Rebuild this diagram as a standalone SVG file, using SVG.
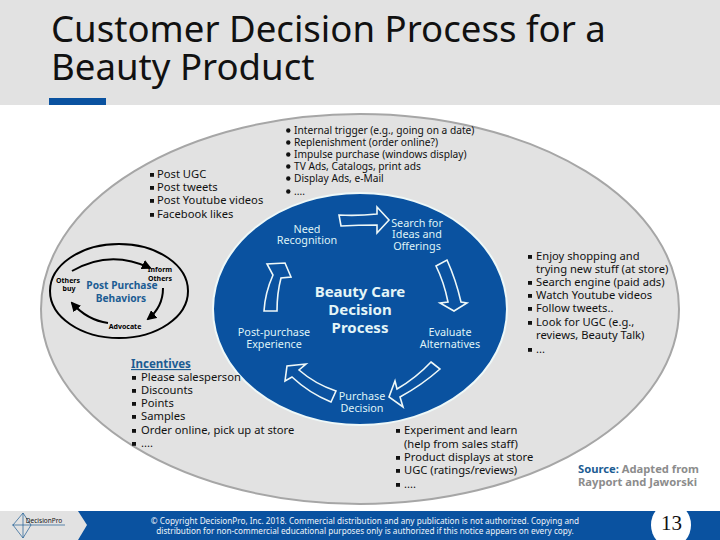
<svg xmlns="http://www.w3.org/2000/svg" width="720" height="540" viewBox="0 0 720 540">
<style>
text{font-family:"Noto Sans","DejaVu Sans",sans-serif}
.t{font-size:36.6px;fill:#111}
.b{font-size:11.2px;fill:#111}
.n{font-size:10.2px;fill:#111}
.w{font-size:10.8px;fill:#dff3f7;text-anchor:middle}
.c{font-size:15px;font-weight:700;fill:#e4f5f7;text-anchor:middle}
.a{fill:none;stroke:#eef8f8;stroke-width:1.6}
.k{fill:none;stroke:#000;stroke-width:2}
.s{font-size:7px;font-weight:700;fill:#000;text-anchor:middle}
.p{font-size:10.2px;font-weight:700;fill:#1c5c93;text-anchor:middle}
.f{font-size:8.2px;fill:#eef4fa;text-anchor:middle}
.num{font-family:"Liberation Serif",serif;font-size:21px;fill:#111}
</style>
<defs>
<marker id="ah" viewBox="0 0 10 10" refX="8" refY="5" markerWidth="5" markerHeight="5" orient="auto"><path d="M0 0L10 5L0 10z" fill="#000"/></marker>
<g id="sq"><rect x="0" y="-5" width="4" height="3.8" fill="#111"/></g>
<g id="dot"><circle cx="2.3" cy="-3.5" r="2.2" fill="#111"/></g>
<clipPath id="fc"><rect y="511" width="720" height="29"/></clipPath>
</defs>
<rect width="720" height="540" fill="#fff"/>
<rect id="header" width="720" height="105" fill="#e2e2e2"/>
<rect x="49" y="98" width="57" height="7" fill="#0a52a0"/>
<text class="t" x="51" y="42">Customer Decision Process for a</text>
<text class="t" x="51" y="80">Beauty Product</text>

<g id="outer"><ellipse cx="360" cy="309" rx="319" ry="195" fill="#e2e2e2" stroke="#a6a6a6" stroke-width="2"/></g>
<g id="inner"><ellipse cx="360" cy="309" rx="147" ry="116" fill="#0a52a0" stroke="#eef8f8" stroke-width="2"/></g>

<g id="need"><text class="w" x="307" y="233">Need</text><text class="w" x="307" y="244">Recognition</text></g>
<g id="search"><text class="w" x="417" y="227">Search for</text><text class="w" x="417" y="238">Ideas and</text><text class="w" x="417" y="250">Offerings</text></g>
<g id="evaluate"><text class="w" x="450" y="336">Evaluate</text><text class="w" x="450" y="348">Alternatives</text></g>
<g id="purchase"><text class="w" x="362" y="400">Purchase</text><text class="w" x="362" y="412">Decision</text></g>
<g id="postpurchase"><text class="w" x="274" y="336">Post-purchase</text><text class="w" x="274" y="348">Experience</text></g>
<g id="center"><text class="c" x="360" y="297">Beauty Care</text><text class="c" x="360" y="315">Decision</text><text class="c" x="360" y="333">Process</text></g>

<g id="connectors">
<path class="a" d="M339 215Q358 216 377 214V207L389 220L377 233V225Q358 225 341 226Z"/>
<path class="a" d="M436 266L447 260Q456 280 461 302L467 303L454 311L440 303L448 302Q444 282 436 266Z"/>
<path class="a" d="M431 362L440 369Q422 385 400 397L403 407L389 397L395 381L397 389Q416 378 431 362Z"/>
<path class="a" d="M336 391L331 402Q309 393 292 377L285 381L287 366L306 364L299 370Q315 384 336 391Z"/>
<path class="a" d="M264 311H277Q277 293 281 278L291 277L285 263L267 264L273 275Q265 293 264 311Z"/>
<path class="k" marker-end="url(#ah)" d="M72 271Q110 249 150 268"/>
<path class="k" marker-end="url(#ah)" d="M163 288Q163 307 148 319"/>
<path class="k" marker-end="url(#ah)" d="M108 323Q87 320 72 303"/>
</g>

<g id="ppb">
<ellipse cx="119" cy="291" rx="69" ry="47" fill="none" stroke="#000" stroke-width="2"/>
<text class="s" x="68" y="283">Others</text><text class="s" x="69" y="291">buy</text>
<text class="s" x="160" y="272">Inform</text><text class="s" x="160" y="281">Others</text>
<text class="s" x="125" y="329">Advocate</text>
<text class="p" x="122" y="289">Post Purchase</text><text class="p" x="121" y="302">Behaviors</text>
</g>

<g id="triggers">
<use href="#dot" x="286" y="134"/><text class="n" x="294" y="134">Internal trigger (e.g., going on a date)</text>
<use href="#dot" x="286" y="146"/><text class="n" x="294" y="146">Replenishment (order online?)</text>
<use href="#dot" x="286" y="158"/><text class="n" x="294" y="158">Impulse purchase (windows display)</text>
<use href="#dot" x="286" y="170"/><text class="n" x="294" y="170">TV Ads, Catalogs, print ads</text>
<use href="#dot" x="286" y="182"/><text class="n" x="294" y="182">Display Ads, e-Mail</text>
<use href="#dot" x="286" y="195"/><text class="n" x="294" y="195">....</text>
</g>
<g id="social">
<use href="#sq" x="150" y="178"/><text class="b" x="157" y="178">Post UGC</text>
<use href="#sq" x="150" y="191"/><text class="b" x="157" y="191">Post tweets</text>
<use href="#sq" x="150" y="204"/><text class="b" x="157" y="204">Post Youtube videos</text>
<use href="#sq" x="150" y="218"/><text class="b" x="157" y="218">Facebook likes</text>
</g>
<g id="incentives">
<text x="131" y="368" font-size="11.5" font-weight="700" fill="#1c5c93" text-decoration="underline">Incentives</text>
<use href="#sq" x="132" y="381"/><text class="b" x="141" y="381">Please salesperson</text>
<use href="#sq" x="132" y="394"/><text class="b" x="141" y="394">Discounts</text>
<use href="#sq" x="132" y="407"/><text class="b" x="141" y="407">Points</text>
<use href="#sq" x="132" y="420"/><text class="b" x="141" y="420">Samples</text>
<use href="#sq" x="132" y="434"/><text class="b" x="141" y="434">Order online, pick up at store</text>
<use href="#sq" x="132" y="447"/><text class="b" x="141" y="447">....</text>
</g>
<g id="search-list">
<use href="#sq" x="528" y="260"/><text class="b" x="536" y="260">Enjoy shopping and</text>
<text class="b" x="536" y="273">trying new stuff (at store)</text>
<use href="#sq" x="528" y="286"/><text class="b" x="536" y="286">Search engine (paid ads)</text>
<use href="#sq" x="528" y="299"/><text class="b" x="536" y="299">Watch Youtube videos</text>
<use href="#sq" x="528" y="312"/><text class="b" x="536" y="312">Follow tweets..</text>
<use href="#sq" x="528" y="326"/><text class="b" x="536" y="326">Look for UGC (e.g.,</text>
<text class="b" x="536" y="339">reviews, Beauty Talk)</text>
<use href="#sq" x="528" y="353"/><text class="b" x="536" y="353">...</text>
</g>
<g id="store-list">
<use href="#sq" x="396" y="434"/><text class="b" x="404" y="434">Experiment and learn</text>
<text class="b" x="404" y="448">(help from sales staff)</text>
<use href="#sq" x="396" y="461"/><text class="b" x="404" y="461">Product displays at store</text>
<use href="#sq" x="396" y="474"/><text class="b" x="404" y="474">UGC (ratings/reviews)</text>
<use href="#sq" x="396" y="488"/><text class="b" x="404" y="488">....</text>
</g>
<g id="source">
<text x="578" y="473" font-size="11.2" font-weight="700" fill="#8c8c8c"><tspan fill="#1c5c93">Source:</tspan> Adapted from</text>
<text x="578" y="486" font-size="11.2" font-weight="700" fill="#8c8c8c">Rayport and Jaworski</text>
</g>
<g id="footer">
<rect y="511" width="720" height="29" fill="#0a52a0"/>
<path d="M0 511H78L87 525L78 540H0Z" fill="#e2e2e2"/>
<path d="M12 525H65M23 513V538M23 513L31 525L23 538L13 525Z" stroke="#1c5c93" stroke-width="0.7" fill="none"/>
<text x="44" y="523" font-size="6.5" fill="#111" text-anchor="middle">DecisionPro</text>
<text class="f" x="365" y="524">© Copyright DecisionPro, Inc. 2018. Commercial distribution and any publication is not authorized. Copying and</text>
<text class="f" x="365" y="534">distribution for non-commercial educational purposes only is authorized if this notice appears on every copy.</text>
<ellipse cx="671" cy="525" rx="20" ry="22" fill="#fff" clip-path="url(#fc)"/>
<text class="num" x="661" y="530">13</text>
</g>
</svg>
